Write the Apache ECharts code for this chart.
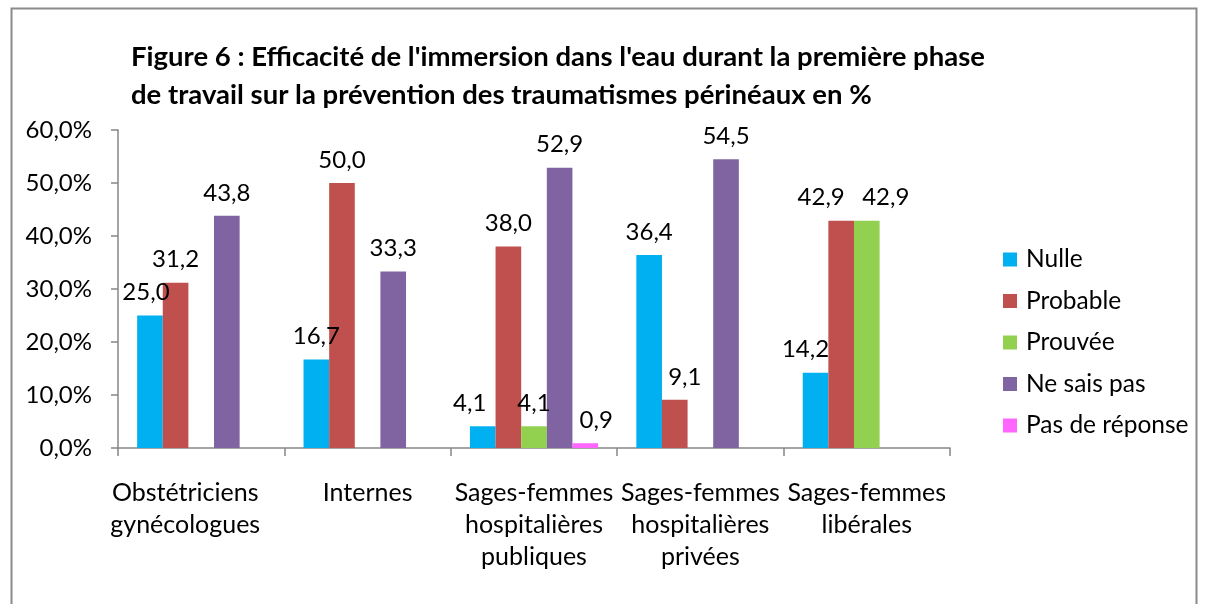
<!DOCTYPE html>
<html>
<head>
<meta charset="utf-8">
<script src="https://cdn.jsdelivr.net/npm/echarts@6/dist/echarts.min.js"></script>
<style>
html,body{margin:0;padding:0;background:#fff;}
#chart{width:1205px;height:604px;}
</style>
</head>
<body>
<div id="chart"></div>
<script>
const categories = ["Obstétriciens\ngynécologues", "Internes", "Sages-femmes\nhospitalières\npubliques", "Sages-femmes\nhospitalières\nprivées", "Sages-femmes\nlibérales"];
const nulle = [25.0, 16.7, 4.1, 36.4, 14.2];
const probable = [31.2, 50.0, 38.0, 9.1, 42.9];
const prouvee = [null, null, 4.1, null, 42.9];
const neSaisPas = [43.8, 33.3, 52.9, 54.5, null];
const pasDeReponse = [null, null, 0.9, null, null];
const seriesNames = ["Nulle", "Probable", "Prouvée", "Ne sais pas", "Pas de réponse"];
const colors = ["#00B0F0", "#C0504D", "#92D050", "#8064A2", "#FF66FF"];
const yTicks = {min: 0, max: 60, interval: 10};

// horizontal label nudges (as Excel moved overlapping labels), keyed "series-category"
const labelNudges = {"0-0": -4, "0-2": -13, "0-4": -10, "1-3": 10, "1-4": -20, "2-4": 19, "4-2": 11};

const FONT = "Lato, 'Open Sans', sans-serif";
const fmt = v => v.toFixed(1).replace('.', ',');

const chart = echarts.init(document.getElementById('chart'));
const dataSets = [nulle, probable, prouvee, neSaisPas, pasDeReponse];
chart.setOption({
  animation: false,
  backgroundColor: '#ffffff',
  graphic: [{
    type: 'rect', left: 9, top: 6,
    shape: {width: 1185, height: 640},
    style: {fill: 'none', stroke: '#8a8a8a', lineWidth: 2},
    silent: true
  }],
  title: {
    text: "Figure 6 : Efficacité de l'immersion dans l'eau durant la première phase\nde travail sur la prévention des traumatismes périnéaux en %",
    left: 131, top: 38, padding: 0,
    textStyle: {fontFamily: FONT, fontWeight: 'bold', fontSize: 27.5, lineHeight: 38, color: '#000'}
  },
  legend: {
    orient: 'vertical', left: 1003, top: 247, padding: 0,
    itemWidth: 14, itemHeight: 14, itemGap: 16.5,
    icon: 'rect',
    textStyle: {fontFamily: FONT, fontSize: 24.5, lineHeight: 24, color: '#000', padding: [0, 0, 0, 4]},
    data: seriesNames
  },
  grid: {left: 118, right: 255, top: 130, bottom: 156, containLabel: false},
  xAxis: {
    type: 'category',
    data: categories.map((c, j) => j === 0 ? {value: c, textStyle: {padding: [0, 32, 0, 0]}} : c),
    axisLine: {lineStyle: {color: '#868686', width: 1.5}},
    axisTick: {show: true, length: 8, alignWithLabel: false, lineStyle: {color: '#868686', width: 1.5}},
    axisLabel: {fontFamily: FONT, fontSize: 25, color: '#000', lineHeight: 32, margin: 29, interval: 0}
  },
  yAxis: {
    type: 'value', min: yTicks.min, max: yTicks.max, interval: yTicks.interval,
    splitLine: {show: false},
    axisLine: {show: true, lineStyle: {color: '#868686', width: 1.5}},
    axisTick: {show: true, length: 7, lineStyle: {color: '#868686', width: 1.5}},
    axisLabel: {fontFamily: FONT, fontSize: 24, color: '#000', margin: 26, formatter: v => fmt(v) + '%'}
  },
  series: seriesNames.map((name, i) => ({
    name: name, type: 'bar',
    data: dataSets[i].map((v, j) => {
      const key = i + '-' + j;
      if (labelNudges[key] != null) return {value: v, label: {offset: [labelNudges[key], 0]}};
      return v;
    }),
    barGap: '0%', barCategoryGap: '23%',
    itemStyle: {color: colors[i]},
    label: {
      show: true, position: 'top', distance: 11,
      fontFamily: FONT, fontSize: 24, color: '#000',
      formatter: p => p.value == null ? '' : fmt(p.value)
    }
  }))
});
</script>
</body>
</html>
